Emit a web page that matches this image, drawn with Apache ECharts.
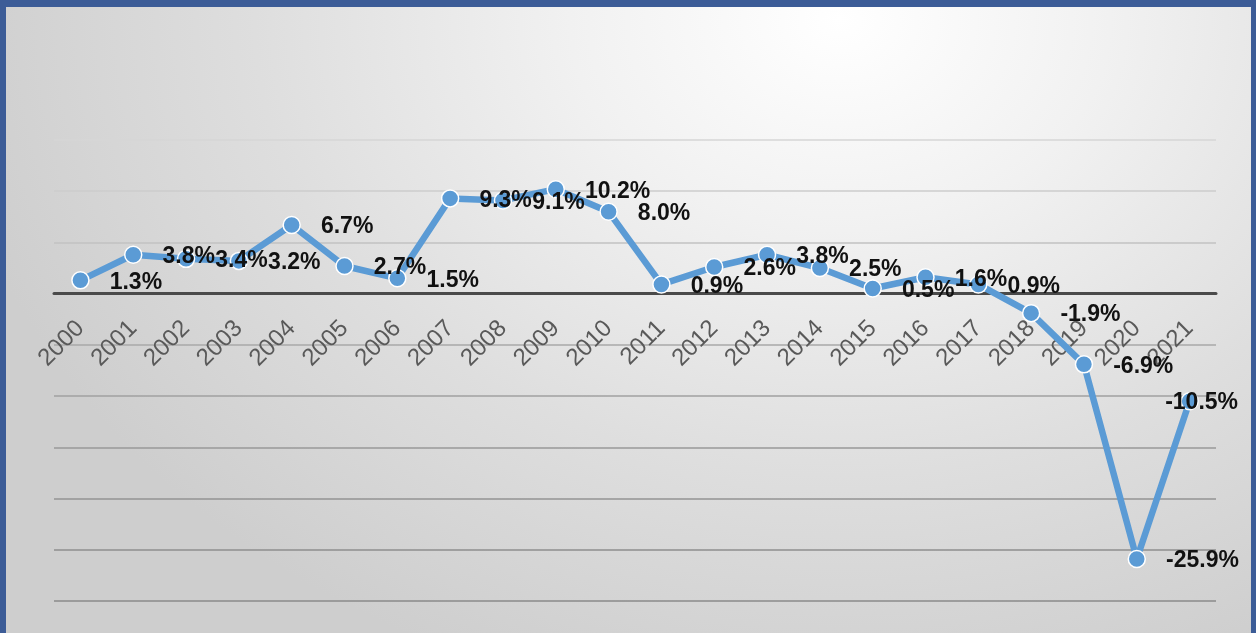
<!DOCTYPE html>
<html>
<head>
<meta charset="utf-8">
<script src="https://cdn.jsdelivr.net/npm/echarts@6/dist/echarts.min.js"></script>
<style>
  html, body { margin: 0; padding: 0; width: 1256px; height: 633px; overflow: hidden; }
  body {
    background: radial-gradient(ellipse 900px 700px at 840px 20px, #ffffff 0%, #f1f1f1 30%, #dedede 65%, #cecece 100%);
  }
  #chart { position: absolute; left: 0; top: 0; width: 1256px; height: 633px; }
  #frame {
    position: absolute; left: 0; top: 0; width: 1256px; height: 633px; box-sizing: border-box;
    border-left: 6px solid #3c5c97; border-top: 7px solid #3c5c97; border-right: 5px solid #3c5c97; border-bottom: 0;
    pointer-events: none; z-index: 5;
  }
</style>
</head>
<body>
<div id="chart"></div>
<div id="frame"></div>
<script>
const years = ['2000','2001','2002','2003','2004','2005','2006','2007','2008','2009','2010',
               '2011','2012','2013','2014','2015','2016','2017','2018','2019','2020','2021'];
const growth = [1.3, 3.8, 3.4, 3.2, 6.7, 2.7, 1.5, 9.3, 9.1, 10.2, 8.0,
                0.9, 2.6, 3.8, 2.5, 0.5, 1.6, 0.9, -1.9, -6.9, -25.9, -10.5];
const yMin = -30, yMax = 15, yStep = 5;

const gridTop = 140, gridBottom = 32, chartH = 633;
const plotH = chartH - gridTop - gridBottom;
// distance from the bottom of the plot up to the zero line
const zeroOffset = plotH * (0 - yMin) / (yMax - yMin);

const seriesData = growth.map((v, i) => i === growth.length - 1
  ? { value: v, label: { position: 'inside', offset: [12, 1] } }
  : v);

const chart = echarts.init(document.getElementById('chart'), null, { renderer: 'canvas' });
chart.setOption({
  backgroundColor: 'transparent',
  animation: false,
  grid: { left: 54, right: 40, top: gridTop, bottom: gridBottom, containLabel: false, outerBoundsMode: 'none' },
  xAxis: {
    type: 'category',
    data: years,
    boundaryGap: true,
    offset: -zeroOffset,
    axisLine: { show: true, onZero: false, lineStyle: { color: '#4a4a4a', width: 3 } },
    axisTick: { show: false },
    axisLabel: {
      interval: 0, rotate: 45, margin: 31,
      fontFamily: 'Liberation Sans', fontSize: 24, color: '#595959'
    },
    splitLine: { show: false }
  },
  yAxis: {
    type: 'value',
    min: yMin, max: yMax, interval: yStep,
    axisLine: { show: false },
    axisTick: { show: false },
    axisLabel: { show: false },
    splitLine: {
      show: true,
      lineStyle: {
        width: 1.5,
        color: ['#8a8a8a', '#8e8e8e', '#939393', '#999999', '#a0a0a0', '#a8a8a8', '#555555', '#c2c2c2', '#cdcdcd', '#d6d6d6']
      }
    }
  },
  series: [{
    type: 'line',
    data: seriesData,
    symbol: 'circle',
    symbolSize: 17,
    lineStyle: { color: '#5b9bd5', width: 6.5 },
    itemStyle: { color: '#5b9bd5', borderColor: '#ffffff', borderWidth: 1.5 },
    label: {
      show: true,
      position: 'right',
      distance: 20,
      offset: [0, 2],
      fontFamily: 'Liberation Sans',
      fontWeight: 'bold',
      fontSize: 23,
      color: '#111111',
      formatter: p => p.value.toFixed(1) + '%'
    },
    z: 3
  }]
});
</script>
</body>
</html>
